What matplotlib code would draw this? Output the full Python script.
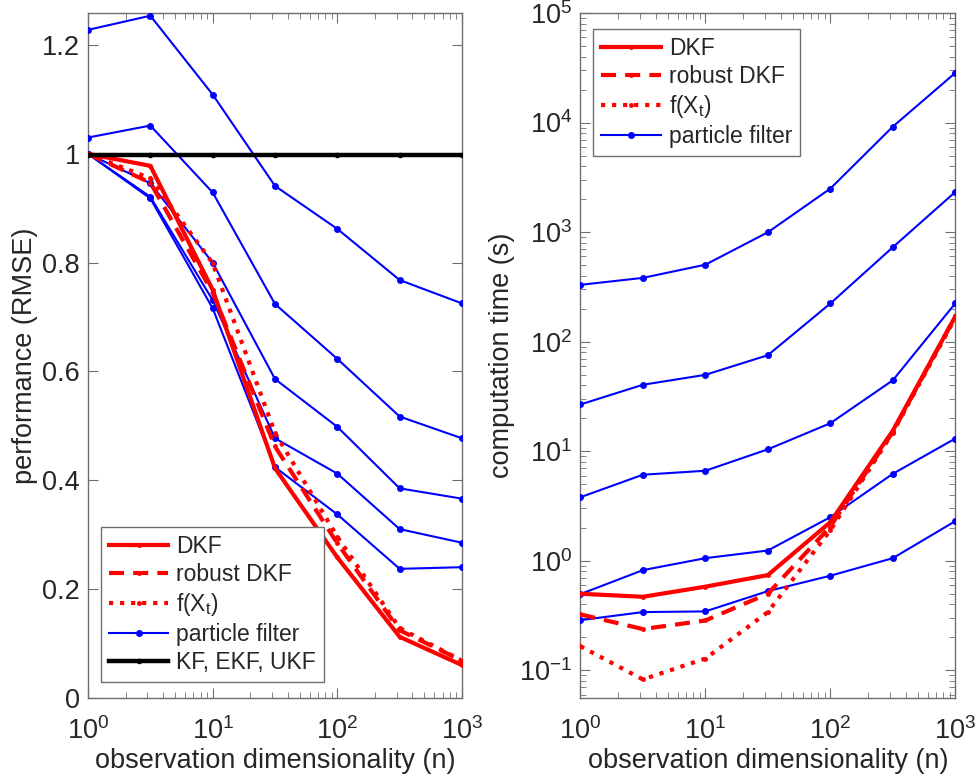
import matplotlib
matplotlib.use("Agg")
import matplotlib.pyplot as plt
from matplotlib.ticker import FuncFormatter, LogLocator, NullFormatter

plt.rcParams['font.family'] = ['Liberation Sans', 'DejaVu Sans']
plt.rcParams['mathtext.default'] = 'regular'
plt.rcParams['font.size'] = 19.5

# observation dimensionality
n_obs = [1, 3.162, 10, 31.62, 100, 316.2, 1000]

# RMSE (left panel)
rmse_dkf = [1.0, 0.978, 0.750, 0.422, 0.258, 0.112, 0.060]
rmse_robust = [1.0, 0.947, 0.745, 0.462, 0.284, 0.124, 0.068]
rmse_fx = [1.0, 0.955, 0.799, 0.487, 0.296, 0.128, 0.068]
rmse_pf = [
    [1.228, 1.254, 1.109, 0.941, 0.862, 0.768, 0.725],
    [1.030, 1.052, 0.929, 0.724, 0.623, 0.517, 0.477],
    [1.000, 0.946, 0.800, 0.586, 0.498, 0.385, 0.366],
    [1.000, 0.921, 0.731, 0.477, 0.412, 0.310, 0.285],
    [1.000, 0.918, 0.716, 0.424, 0.337, 0.237, 0.240],
]
rmse_kf = [0.997, 0.997, 0.997, 0.997, 0.997, 0.997, 0.997]

# computation time in seconds (right panel)
time_dkf = [0.50, 0.469, 0.58, 0.74, 2.25, 15.4, 170]
time_robust = [0.324, 0.238, 0.285, 0.50, 2.05, 15.0, 170]
time_fx = [0.166, 0.0826, 0.128, 0.34, 1.9, 14.8, 165]
time_pf = [
    [330, 382, 504, 996, 2495, 9180, 28400],
    [26.7, 40.4, 49.8, 75.2, 223, 727, 2328],
    [3.8, 6.1, 6.63, 10.4, 18.0, 44.4, 224],
    [0.496, 0.821, 1.056, 1.24, 2.5, 6.22, 13.06],
    [0.287, 0.34, 0.345, 0.528, 0.73, 1.056, 2.30],
]

edge = '#6e6e6e'
txt = '#262626'

fig = plt.figure(figsize=(9.79, 7.83), dpi=100)
ax1 = fig.add_axes([0.0899, 0.1089, 0.3820, 0.8745])
ax2 = fig.add_axes([0.5928, 0.1089, 0.3830, 0.8745])


def style_axes(ax):
    ax.set_xscale('log')
    ax.set_xlim(1, 1000)
    for s in ax.spines.values():
        s.set_color(edge)
        s.set_linewidth(1.0)
    ax.tick_params(which='both', direction='in', top=True, right=True,
                   color=edge, labelcolor=txt)
    ax.tick_params(which='major', length=7)
    ax.tick_params(which='minor', length=4)
    ax.tick_params(axis='x', which='major', pad=14)
    ax.tick_params(axis='y', which='major', pad=6)
    ax.set_xlabel('observation dimensionality (n)', color=txt, labelpad=2)


leg_kw = dict(frameon=True, fancybox=False, edgecolor=edge, framealpha=1,
              fontsize=16.5, handlelength=2.6, handletextpad=0.35,
              labelspacing=0.22, borderpad=0.35, borderaxespad=0, labelcolor=txt)

# left: performance
style_axes(ax1)
ax1.plot(n_obs, rmse_dkf, '-', color='red', lw=3, marker='.', ms=5, label='DKF', zorder=4)
ax1.plot(n_obs, rmse_robust, '--', color='red', lw=3, marker='.', ms=5, label='robust DKF',
         dashes=(3.6, 2.2), zorder=4)
ax1.plot(n_obs, rmse_fx, ':', color='red', lw=3, marker='.', ms=5, label='f(X$_t$)', zorder=4)
for i, row in enumerate(rmse_pf):
    ax1.plot(n_obs, row, '-', color='blue', lw=1.5, marker='.', ms=8,
             label='particle filter' if i == 0 else None, zorder=3)
ax1.plot(n_obs, rmse_kf, '-', color='black', lw=3.2, marker='.', ms=6,
         label='KF, EKF, UKF', zorder=5)
ax1.set_ylim(0, 1.259)
ax1.set_yticks([0, 0.2, 0.4, 0.6, 0.8, 1.0, 1.2])
ax1.yaxis.set_major_formatter(FuncFormatter(lambda v, p: '%g' % v))
ax1.set_ylabel('performance (RMSE)', color=txt, labelpad=3)
ax1.legend(loc='lower left', bbox_to_anchor=(0.034, 0.023), **leg_kw)

# right: computation time
style_axes(ax2)
ax2.set_yscale('log')
ax2.plot(n_obs, time_dkf, '-', color='red', lw=3, marker='.', ms=5, label='DKF', zorder=4)
ax2.plot(n_obs, time_robust, '--', color='red', lw=3, marker='.', ms=5, label='robust DKF',
         dashes=(3.6, 2.2), zorder=4)
ax2.plot(n_obs, time_fx, ':', color='red', lw=3, marker='.', ms=5, label='f(X$_t$)', zorder=4)
for i, row in enumerate(time_pf):
    ax2.plot(n_obs, row, '-', color='blue', lw=1.5, marker='.', ms=8,
             label='particle filter' if i == 0 else None, zorder=3)
ax2.set_ylim(0.0562, 1e5)
ax2.yaxis.set_minor_locator(LogLocator(base=10, subs=range(2, 10), numticks=20))
ax2.yaxis.set_minor_formatter(NullFormatter())
ax2.set_ylabel('computation time (s)', color=txt, labelpad=3)
ax2.legend(loc='upper left', bbox_to_anchor=(0.034, 0.977), **leg_kw)

for ax in (ax1, ax2):
    ax.xaxis.set_minor_formatter(NullFormatter())

fig.savefig('out.png', dpi=100)
